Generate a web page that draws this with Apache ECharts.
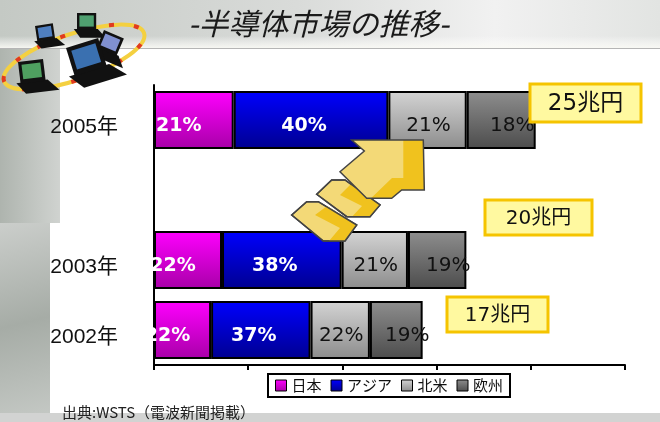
<!DOCTYPE html>
<html><head><meta charset="utf-8">
<script src="https://cdn.jsdelivr.net/npm/echarts@6/dist/echarts.min.js"></script>
<style>html,body{margin:0;padding:0;background:#fff}#c{width:660px;height:422px}</style>
</head><body><div id="c"></div>
<script>
// ---- data (billions of US$) ----
const categories = ['2002年', '2003年', '', '2005年'];
const seriesNames = ['日本', 'アジア', '北米', '欧州'];
const japan   = [30.3, 36.1, '-', 42.3];
const asia    = [52.8, 63.5, '-', 82.1];
const america = [31.5, 35.2, '-', 41.6];
const europe  = [28.0, 31.0, '-', 36.6];
const japanPct   = ['22%', '22%', '', '21%'];
const asiaPct    = ['37%', '38%', '', '40%'];
const americaPct = ['22%', '21%', '', '21%'];
const europePct  = ['19%', '19%', '', '18%'];
const totalLabels = ['17兆円', '20兆円', '25兆円'];
const titleText = '-半導体市場の推移-';
const sourceText = '出典:WSTS（電波新聞掲載）';

const chart = echarts.init(document.getElementById('c'), null, {renderer: 'canvas'});
function grad(a, b) {
  return new echarts.graphic.LinearGradient(0, 0, 0, 1, [{offset: 0, color: a}, {offset: 1, color: b}]);
}
function mk(name, data, labels, c1, c2, txt, dx, bold) {
  return {
    name, type: 'bar', stack: 'total', data, barWidth: 58,
    itemStyle: {color: grad(c1, c2), borderColor: '#000', borderWidth: 2},
    label: {show: true, position: 'inside', offset: [dx, 6],
      formatter: p => labels[p.dataIndex], color: txt,
      fontFamily: 'DejaVu Sans', fontWeight: bold ? 'bold' : 'normal', fontSize: bold ? 19 : 20},
    emphasis: {disabled: true}
  };
}
function box(x, y, w, h, text, fs) {
  return {type: 'group', z: 60, children: [
    {type: 'rect', shape: {x, y, width: w, height: h},
      style: {fill: '#FFF9A0', stroke: '#F5C400', lineWidth: 3}, z: 60},
    {type: 'text', x: x + w / 2, y: y + h / 2 + 1, z: 61,
      style: {text, fontSize: fs, fontFamily: 'DejaVu Sans, Noto Sans CJK JP', fill: '#111',
        align: 'center', verticalAlign: 'middle'}}
  ]};
}
function laptop(x, y, s, rot, scr) {
  return {type: 'group', x, y, scaleX: s, scaleY: s, rotation: rot, z: 30, children: [
    {type: 'polygon', shape: {points: [[-4, 20], [26, 20], [36, 31], [4, 31]]}, style: {fill: '#111'}, z: 30},
    {type: 'rect', shape: {x: 0, y: 0, width: 24, height: 21}, style: {fill: '#111'}, z: 31},
    {type: 'rect', shape: {x: 3, y: 3, width: 18, height: 14}, style: {fill: scr}, z: 32}
  ]};
}
const arrowMain = [[351.7,140],[423.3,140],[424.3,190],[401.7,190],[391.7,198.3],[366.7,198.3],[340,171.7],[364.3,151]];
const arrowDark = [[403.3,140],[423.3,140],[424.3,190],[401.7,190],[391.7,198.3],[371,198.3],[392,178],[403.3,178]];
const chev1 = [[316.7,194.3],[331.7,180],[345,180],[380,205],[370,216.7],[346.7,216.7]];
const chev1d = [[340,195],[352,183],[380,205],[370,216.7],[352,216.7],[362,206]];
const chev2 = [[291.7,215],[306.7,201.7],[318.3,201.7],[356.7,225],[345,241],[323.3,241]];
const chev2d = [[315,215],[327,206],[356.7,225],[345,241],[329,241],[340,228]];

chart.setOption({
  animation: false,
  title: [
    {text: titleText, left: 183, top: 4,
      textStyle: {fontSize: 30, fontStyle: 'italic', fontWeight: 'normal', color: '#1a1a1a', fontFamily: 'Noto Sans CJK JP'}},
    {text: sourceText, left: 57, top: 400,
      textStyle: {fontSize: 15, fontWeight: 'normal', color: '#222', fontFamily: 'Noto Sans CJK JP'}}
  ],
  grid: {left: 154, right: 35, top: 85, bottom: 57, containLabel: false},
  xAxis: {type: 'value', min: 0, max: 250, interval: 50,
    axisLine: {show: true, lineStyle: {color: '#000', width: 2}},
    axisTick: {show: true, length: 5, lineStyle: {color: '#000', width: 2}},
    axisLabel: {show: false}, splitLine: {show: false}},
  yAxis: {type: 'category', data: categories,
    axisLine: {show: true, lineStyle: {color: '#000', width: 2}},
    axisTick: {show: false},
    axisLabel: {margin: 36, formatter: v => v ? '{a|' + v + '}' : '',
      rich: {a: {fontSize: 21, color: '#111', fontFamily: 'Liberation Sans, Noto Sans CJK JP', padding: [14, 0, 0, 0]}}}},
  legend: {data: seriesNames, left: 268, top: 374, orient: 'horizontal',
    padding: [4, 7], itemGap: 9, itemWidth: 11, itemHeight: 11,
    borderColor: '#000', borderWidth: 2, backgroundColor: '#fff',
    icon: 'rect', itemStyle: {borderColor: '#000', borderWidth: 1},
    textStyle: {fontSize: 15, color: '#111', fontFamily: 'Noto Sans CJK JP'}},
  series: [
    mk(seriesNames[0], japan, japanPct, '#FF00FF', '#A800A8', '#fff', -15, true),
    mk(seriesNames[1], asia, asiaPct, '#0000FF', '#000090', '#fff', -7, true),
    mk(seriesNames[2], america, americaPct, '#D4D4D4', '#8C8C8C', '#111', 1, false),
    mk(seriesNames[3], europe, europePct, '#8E8E8E', '#4C4C4C', '#111', 11, false)
  ],
  graphic: [
    // backgrounds
    {type: 'rect', z: -10, shape: {x: 0, y: 0, width: 660, height: 48},
      style: {fill: new echarts.graphic.LinearGradient(0, 0, 1, 0, [
        {offset: 0, color: '#c4c9c4'}, {offset: 0.45, color: '#d9dbd9'},
        {offset: 0.75, color: '#f1f1f1'}, {offset: 1, color: '#e2e4e2'}])}},
    {type: 'rect', z: -9, shape: {x: 0, y: 36, width: 660, height: 12},
      style: {fill: new echarts.graphic.LinearGradient(0, 0, 0, 1, [
        {offset: 0, color: 'rgba(255,255,255,0)'}, {offset: 1, color: 'rgba(250,250,245,0.9)'}])}},
    {type: 'line', z: -8, shape: {x1: 0, y1: 48.5, x2: 660, y2: 48.5}, style: {stroke: '#b5b5b5', lineWidth: 1}},
    {type: 'rect', z: -10, shape: {x: 0, y: 48, width: 60, height: 175},
      style: {fill: new echarts.graphic.LinearGradient(0, 0, 1, 0, [
        {offset: 0, color: '#aeb4ae'}, {offset: 1, color: '#d0d3d0'}])}},
    {type: 'rect', z: -10, shape: {x: 0, y: 223, width: 50, height: 199},
      style: {fill: new echarts.graphic.LinearGradient(0, 0, 1, 1, [
        {offset: 0, color: '#cbcecb'}, {offset: 0.5, color: '#a6aca6'}, {offset: 1, color: '#c6cac6'}])}},
    {type: 'rect', z: -10, shape: {x: 0, y: 413, width: 660, height: 9},
      style: {fill: '#d2d3d2'}},
    // laptop ring decoration
    {type: 'ellipse', z: 20, shape: {cx: 74, cy: 57, rx: 74, ry: 23}, rotation: 0.33, originX: 74, originY: 57,
      style: {fill: 'none', stroke: '#F4D040', lineWidth: 4}},
    {type: 'ellipse', z: 21, shape: {cx: 74, cy: 57, rx: 74, ry: 23}, rotation: 0.33, originX: 74, originY: 57,
      style: {fill: 'none', stroke: '#E03A20', lineWidth: 4, lineDash: [5, 20]}},
    laptop(35, 26, 0.75, 0.15, '#4f7fc0'),
    laptop(77, 13, 0.8, 0, '#4fa070'),
    laptop(104, 30, 0.9, -0.4, '#8090d0'),
    laptop(66, 48, 1.4, 0.3, '#3a70b0'),
    laptop(18, 62, 1.05, 0.12, '#4fa060'),
    // clip magenta labels at the axis
    {type: 'rect', z: 40, shape: {x: 120, y: 86, width: 32.5, height: 278}, style: {fill: '#fff'}},
    // growth arrow
    {type: 'polygon', z: 50, shape: {points: chev2}, style: {fill: '#F3D977', stroke: '#444', lineWidth: 1.5}},
    {type: 'polygon', z: 51, shape: {points: chev2d}, style: {fill: '#F0C21E'}},
    {type: 'polygon', z: 52, shape: {points: chev2}, style: {fill: 'none', stroke: '#444', lineWidth: 1.5}},
    {type: 'polygon', z: 53, shape: {points: chev1}, style: {fill: '#F3D977', stroke: '#444', lineWidth: 1.5}},
    {type: 'polygon', z: 54, shape: {points: chev1d}, style: {fill: '#F0C21E'}},
    {type: 'polygon', z: 55, shape: {points: chev1}, style: {fill: 'none', stroke: '#444', lineWidth: 1.5}},
    {type: 'polygon', z: 56, shape: {points: arrowMain}, style: {fill: '#F3D977'}},
    {type: 'polygon', z: 57, shape: {points: arrowDark}, style: {fill: '#F0C21E'}},
    {type: 'polygon', z: 58, shape: {points: arrowMain}, style: {fill: 'none', stroke: '#444', lineWidth: 1.5}},
    // total boxes
    box(447, 297, 101, 35, totalLabels[0], 20),
    box(485, 200, 107, 35, totalLabels[1], 20),
    box(530, 84, 111, 38, totalLabels[2], 23)
  ]
});
</script></body></html>
